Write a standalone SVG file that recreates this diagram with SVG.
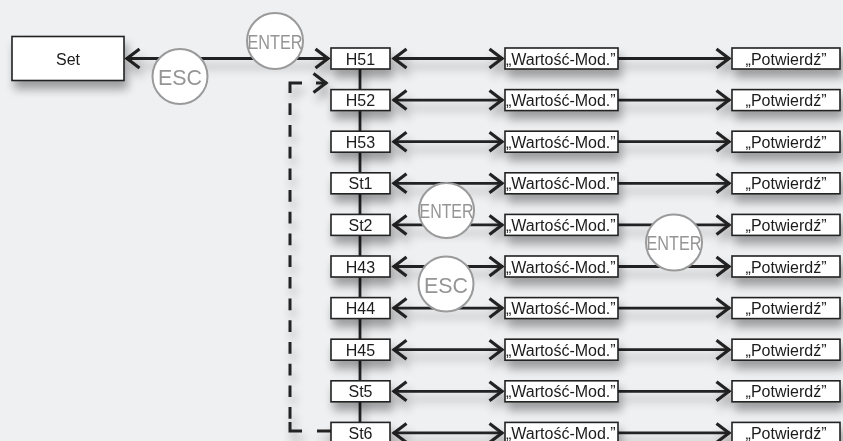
<svg xmlns="http://www.w3.org/2000/svg" width="843" height="441" viewBox="0 0 843 441">
<defs>
<style>
.box{fill:#fff;stroke:#222;stroke-width:1.6}
.t{font-family:"Liberation Sans",Arial,sans-serif;font-size:16px;fill:#1a1a1a}
.tm{text-anchor:middle}
.ln{stroke:#222;stroke-width:2.8;fill:none}
.dl{stroke:#222;stroke-width:3;fill:none}
.cir{fill:#fff;stroke:#9a9a9a;stroke-width:2}
.ct{font-family:"Liberation Sans",Arial,sans-serif;fill:#959595;text-anchor:middle}
</style>
<marker id="ch" viewBox="-15 -12 18 24" refX="1" refY="0" markerWidth="18" markerHeight="24" markerUnits="userSpaceOnUse" orient="auto-start-reverse">
<path d="M-12.5,-9.5 L0,0 L-12.5,9.5" fill="none" stroke="#222" stroke-width="3.2"/>
</marker>
<filter id="sh" filterUnits="userSpaceOnUse" x="0" y="0" width="843" height="441">
<feGaussianBlur in="SourceAlpha" stdDeviation="5"/>
<feOffset dx="3" dy="8"/>
<feComponentTransfer><feFuncA type="linear" slope="0.35"/></feComponentTransfer>
<feMerge><feMergeNode/><feMergeNode in="SourceGraphic"/></feMerge>
</filter>
</defs>
<rect width="843" height="441" fill="#eff0f2"/>

<g id="connectors" filter="url(#sh)">
<line class="ln" x1="126" y1="58.5" x2="329" y2="58.5" marker-start="url(#ch)" marker-end="url(#ch)"/>
<line class="ln" x1="360" y1="58" x2="360" y2="432"/>
<g id="dashed">
<path class="dl" d="M302,83 H290 V93"/>
<line class="dl" x1="290" y1="103.3" x2="290" y2="419" stroke-dasharray="11.7 10"/>
<path class="dl" d="M290,422 V431 H302"/>
<line class="dl" x1="316" y1="83" x2="327" y2="83" marker-end="url(#ch)"/>
<line class="dl" x1="317" y1="431" x2="331" y2="431"/>
</g>
<g id="rowlines">
<line class="ln" x1="393" y1="58.5" x2="503" y2="58.5" marker-start="url(#ch)" marker-end="url(#ch)"/>
<line class="ln" x1="618" y1="58.5" x2="730" y2="58.5" marker-end="url(#ch)"/>
<line class="ln" x1="393" y1="100.1" x2="503" y2="100.1" marker-start="url(#ch)" marker-end="url(#ch)"/>
<line class="ln" x1="618" y1="100.1" x2="730" y2="100.1" marker-end="url(#ch)"/>
<line class="ln" x1="393" y1="141.7" x2="503" y2="141.7" marker-start="url(#ch)" marker-end="url(#ch)"/>
<line class="ln" x1="618" y1="141.7" x2="730" y2="141.7" marker-end="url(#ch)"/>
<line class="ln" x1="393" y1="183.3" x2="503" y2="183.3" marker-start="url(#ch)" marker-end="url(#ch)"/>
<line class="ln" x1="618" y1="183.3" x2="730" y2="183.3" marker-end="url(#ch)"/>
<line class="ln" x1="393" y1="224.9" x2="503" y2="224.9" marker-start="url(#ch)" marker-end="url(#ch)"/>
<line class="ln" x1="618" y1="224.9" x2="730" y2="224.9" marker-end="url(#ch)"/>
<line class="ln" x1="393" y1="266.5" x2="503" y2="266.5" marker-start="url(#ch)" marker-end="url(#ch)"/>
<line class="ln" x1="618" y1="266.5" x2="730" y2="266.5" marker-end="url(#ch)"/>
<line class="ln" x1="393" y1="308.1" x2="503" y2="308.1" marker-start="url(#ch)" marker-end="url(#ch)"/>
<line class="ln" x1="618" y1="308.1" x2="730" y2="308.1" marker-end="url(#ch)"/>
<line class="ln" x1="393" y1="349.7" x2="503" y2="349.7" marker-start="url(#ch)" marker-end="url(#ch)"/>
<line class="ln" x1="618" y1="349.7" x2="730" y2="349.7" marker-end="url(#ch)"/>
<line class="ln" x1="393" y1="391.3" x2="503" y2="391.3" marker-start="url(#ch)" marker-end="url(#ch)"/>
<line class="ln" x1="618" y1="391.3" x2="730" y2="391.3" marker-end="url(#ch)"/>
<line class="ln" x1="393" y1="432.9" x2="503" y2="432.9" marker-start="url(#ch)" marker-end="url(#ch)"/>
<line class="ln" x1="618" y1="432.9" x2="730" y2="432.9" marker-end="url(#ch)"/>
</g>
</g>

<g id="nodes" filter="url(#sh)">
<g id="set"><rect class="box" x="12" y="36.5" width="112" height="44"/><text class="t tm" x="68" y="64.5">Set</text></g>

<g id="row-H51" transform="translate(0,48)">
<g id="H51"><rect class="box" x="331" y="0" width="59" height="21"/><text class="t tm" x="360.5" y="16.5">H51</text></g>
<g id="H51-mod"><rect class="box" x="505" y="0" width="113" height="21"/><text class="t" x="506" y="16.5" font-size="15.5">„Wartość-Mod.”</text></g>
<g id="H51-ok"><rect class="box" x="732" y="0" width="108" height="21"/><text class="t tm" x="786" y="16.5">„Potwierdź”</text></g>
</g>
<g id="row-H52" transform="translate(0,89.6)">
<g id="H52"><rect class="box" x="331" y="0" width="59" height="21"/><text class="t tm" x="360.5" y="16.5">H52</text></g>
<g id="H52-mod"><rect class="box" x="505" y="0" width="113" height="21"/><text class="t" x="506" y="16.5" font-size="15.5">„Wartość-Mod.”</text></g>
<g id="H52-ok"><rect class="box" x="732" y="0" width="108" height="21"/><text class="t tm" x="786" y="16.5">„Potwierdź”</text></g>
</g>
<g id="row-H53" transform="translate(0,131.2)">
<g id="H53"><rect class="box" x="331" y="0" width="59" height="21"/><text class="t tm" x="360.5" y="16.5">H53</text></g>
<g id="H53-mod"><rect class="box" x="505" y="0" width="113" height="21"/><text class="t" x="506" y="16.5" font-size="15.5">„Wartość-Mod.”</text></g>
<g id="H53-ok"><rect class="box" x="732" y="0" width="108" height="21"/><text class="t tm" x="786" y="16.5">„Potwierdź”</text></g>
</g>
<g id="row-St1" transform="translate(0,172.8)">
<g id="St1"><rect class="box" x="331" y="0" width="59" height="21"/><text class="t tm" x="360.5" y="16.5">St1</text></g>
<g id="St1-mod"><rect class="box" x="505" y="0" width="113" height="21"/><text class="t" x="506" y="16.5" font-size="15.5">„Wartość-Mod.”</text></g>
<g id="St1-ok"><rect class="box" x="732" y="0" width="108" height="21"/><text class="t tm" x="786" y="16.5">„Potwierdź”</text></g>
</g>
<g id="row-St2" transform="translate(0,214.4)">
<g id="St2"><rect class="box" x="331" y="0" width="59" height="21"/><text class="t tm" x="360.5" y="16.5">St2</text></g>
<g id="St2-mod"><rect class="box" x="505" y="0" width="113" height="21"/><text class="t" x="506" y="16.5" font-size="15.5">„Wartość-Mod.”</text></g>
<g id="St2-ok"><rect class="box" x="732" y="0" width="108" height="21"/><text class="t tm" x="786" y="16.5">„Potwierdź”</text></g>
</g>
<g id="row-H43" transform="translate(0,256)">
<g id="H43"><rect class="box" x="331" y="0" width="59" height="21"/><text class="t tm" x="360.5" y="16.5">H43</text></g>
<g id="H43-mod"><rect class="box" x="505" y="0" width="113" height="21"/><text class="t" x="506" y="16.5" font-size="15.5">„Wartość-Mod.”</text></g>
<g id="H43-ok"><rect class="box" x="732" y="0" width="108" height="21"/><text class="t tm" x="786" y="16.5">„Potwierdź”</text></g>
</g>
<g id="row-H44" transform="translate(0,297.6)">
<g id="H44"><rect class="box" x="331" y="0" width="59" height="21"/><text class="t tm" x="360.5" y="16.5">H44</text></g>
<g id="H44-mod"><rect class="box" x="505" y="0" width="113" height="21"/><text class="t" x="506" y="16.5" font-size="15.5">„Wartość-Mod.”</text></g>
<g id="H44-ok"><rect class="box" x="732" y="0" width="108" height="21"/><text class="t tm" x="786" y="16.5">„Potwierdź”</text></g>
</g>
<g id="row-H45" transform="translate(0,339.2)">
<g id="H45"><rect class="box" x="331" y="0" width="59" height="21"/><text class="t tm" x="360.5" y="16.5">H45</text></g>
<g id="H45-mod"><rect class="box" x="505" y="0" width="113" height="21"/><text class="t" x="506" y="16.5" font-size="15.5">„Wartość-Mod.”</text></g>
<g id="H45-ok"><rect class="box" x="732" y="0" width="108" height="21"/><text class="t tm" x="786" y="16.5">„Potwierdź”</text></g>
</g>
<g id="row-St5" transform="translate(0,380.8)">
<g id="St5"><rect class="box" x="331" y="0" width="59" height="21"/><text class="t tm" x="360.5" y="16.5">St5</text></g>
<g id="St5-mod"><rect class="box" x="505" y="0" width="113" height="21"/><text class="t" x="506" y="16.5" font-size="15.5">„Wartość-Mod.”</text></g>
<g id="St5-ok"><rect class="box" x="732" y="0" width="108" height="21"/><text class="t tm" x="786" y="16.5">„Potwierdź”</text></g>
</g>
<g id="row-St6" transform="translate(0,422.4)">
<g id="St6"><rect class="box" x="331" y="0" width="59" height="21"/><text class="t tm" x="360.5" y="16.5">St6</text></g>
<g id="St6-mod"><rect class="box" x="505" y="0" width="113" height="21"/><text class="t" x="506" y="16.5" font-size="15.5">„Wartość-Mod.”</text></g>
<g id="St6-ok"><rect class="box" x="732" y="0" width="108" height="21"/><text class="t tm" x="786" y="16.5">„Potwierdź”</text></g>
</g>
</g>

<g id="keys">
<g id="key-esc-1"><circle class="cir" cx="180" cy="76.5" r="27.5"/><text class="ct" x="180" y="85" font-size="22" textLength="44" lengthAdjust="spacingAndGlyphs">ESC</text></g>
<g id="key-enter-1"><circle class="cir" cx="275" cy="41" r="28"/><text class="ct" x="275" y="48.5" font-size="20" textLength="55" lengthAdjust="spacingAndGlyphs">ENTER</text></g>
<g id="key-enter-2"><circle class="cir" cx="446.5" cy="210.5" r="27.5"/><text class="ct" x="446.5" y="218" font-size="20" textLength="54" lengthAdjust="spacingAndGlyphs">ENTER</text></g>
<g id="key-esc-2"><circle class="cir" cx="446" cy="284" r="27.5"/><text class="ct" x="446" y="292.5" font-size="22" textLength="44" lengthAdjust="spacingAndGlyphs">ESC</text></g>
<g id="key-enter-3"><circle class="cir" cx="674" cy="242.5" r="28"/><text class="ct" x="674" y="250" font-size="20" textLength="55" lengthAdjust="spacingAndGlyphs">ENTER</text></g>
</g>
</svg>
